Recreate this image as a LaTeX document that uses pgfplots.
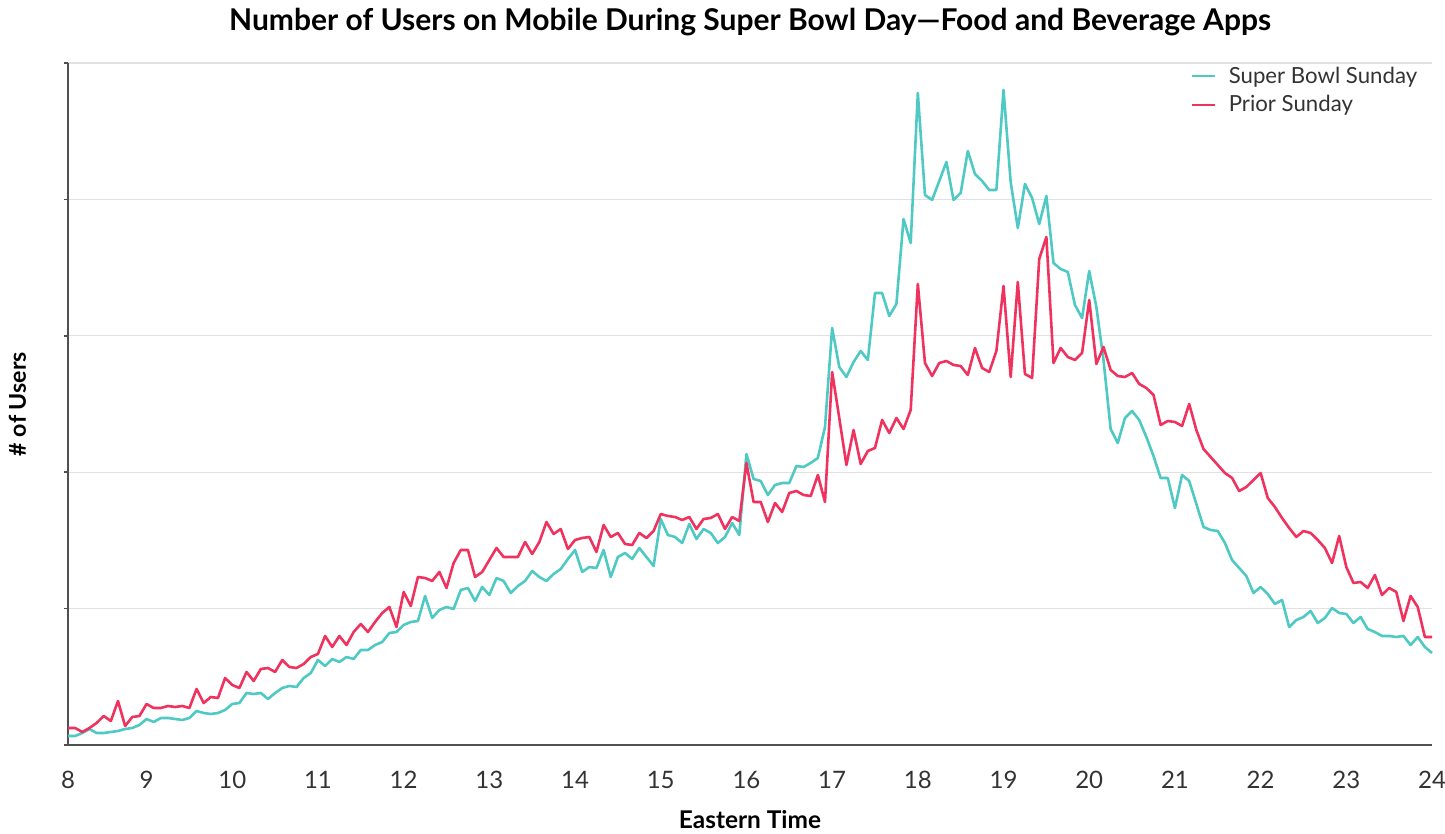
\documentclass[border=0pt]{standalone}
\usepackage{fontspec}
\setmainfont{Lato}
\usepackage{pgfplots}
\pgfplotsset{compat=1.18}
\usepackage{pgfplotstable}
\definecolor{sbteal}{RGB}{78,201,196}
\definecolor{prred}{RGB}{240,50,94}
\definecolor{txtgray}{RGB}{51,51,51}
\definecolor{axgray}{RGB}{80,80,80}
\definecolor{gridgray}{RGB}{225,225,225}

\pgfplotstableread{
h m sb pr
8 5 9 17
8 10 9 17
8 15 12 13
8 20 16 17
8 25 12 22
8 30 12 29
8 35 13 24
8 40 14 44
8 45 16 19
8 50 17 28
8 55 20 29
9 0 26 41
9 5 23 37
9 10 27 37
9 15 27 39
9 20 26 38
9 25 25 39
9 30 27 37
9 35 34 56
9 40 32 42
9 45 31 48
9 50 32 47
9 55 35 67
10 0 41 60
10 5 42 57
10 10 52 73
10 15 51 64
10 20 52 76
10 25 46 77
10 30 52 73
10 35 57 85
10 40 59 78
10 45 58 77
10 50 67 81
10 55 72 88
11 0 85 91
11 5 79 109
11 10 86 98
11 15 83 109
11 20 88 100
11 25 86 113
11 30 95 121
11 35 95 113
11 40 100 123
11 45 103 132
11 50 112 138
11 55 113 118
12 0 120 153
12 5 123 139
12 10 124 168
12 15 149 167
12 20 127 164
12 25 135 173
12 30 138 157
12 35 136 182
12 40 155 195
12 45 157 195
12 50 144 168
12 55 158 173
13 0 150 185
13 5 167 197
13 10 164 188
13 15 152 188
13 20 159 188
13 25 164 203
13 30 174 191
13 35 168 203
13 40 164 223
13 45 171 211
13 50 176 216
13 55 186 196
14 0 195 205
14 5 173 207
14 10 178 208
14 15 177 193
14 20 195 220
14 25 168 208
14 30 188 212
14 35 192 201
14 40 186 200
14 45 197 212
14 50 188 207
14 55 179 214
15 0 226 231
15 5 210 229
15 10 208 228
15 15 202 225
15 20 221 228
15 25 206 216
15 30 216 226
15 35 212 227
15 40 202 231
15 45 208 216
15 50 222 228
15 55 210 224
16 0 291 282
16 5 266 243
16 10 264 243
16 15 250 223
16 20 260 242
16 25 262 233
16 30 262 252
16 35 279 254
16 40 278 250
16 45 282 249
16 50 287 270
16 55 318 243
17 0 417 373
17 5 378 327
17 10 368 280
17 15 383 315
17 20 394 281
17 25 385 294
17 30 452 297
17 35 452 325
17 40 429 312
17 45 441 327
17 50 526 316
17 55 502 335
18 0 652 461
18 5 550 382
18 10 545 369
18 15 564 382
18 20 583 384
18 25 545 380
18 30 552 379
18 35 594 370
18 40 571 397
18 45 564 377
18 50 555 373
18 55 555 394
19 0 655 459
19 5 563 368
19 10 517 463
19 15 561 371
19 20 547 367
19 25 521 486
19 30 549 508
19 35 482 382
19 40 476 397
19 45 473 388
19 50 440 385
19 55 427 392
20 0 474 445
20 5 438 381
20 10 385 398
20 15 316 375
20 20 302 369
20 25 327 368
20 30 334 372
20 35 325 361
20 40 308 357
20 45 289 350
20 50 267 320
20 55 267 324
21 0 237 323
21 5 270 319
21 10 264 341
21 15 241 315
21 20 218 296
21 25 215 288
21 30 214 280
21 35 202 272
21 40 185 267
21 45 177 254
21 50 169 258
21 55 152 265
22 0 158 272
22 5 151 247
22 10 141 238
22 15 145 227
22 20 118 217
22 25 125 208
22 30 128 214
22 35 134 212
22 40 122 205
22 45 127 197
22 50 137 182
22 55 132 209
23 0 131 178
23 5 122 162
23 10 128 163
23 15 116 157
23 20 113 170
23 25 109 150
23 30 109 157
23 35 108 153
23 40 109 124
23 45 100 149
23 50 108 138
23 55 98 108
24 0 92 108
}\datatable

\begin{document}
\begin{tikzpicture}
\path[use as bounding box] (-34pt,-44.5pt) rectangle (688.5pt,372.5pt);
\begin{axis}[
  at={(0pt,0pt)}, anchor=south west,
  scale only axis, width=682pt, height=341pt,
  xmin=8.0833, xmax=24, ymin=0, ymax=682,
  axis x line*=bottom, axis y line*=left,
  axis line style={draw=axgray, line width=0.8pt},
  xtick={8.0833,9,10,11,12,13,14,15,16,17,18,19,20,21,22,23,24},
  xticklabels={8,9,10,11,12,13,14,15,16,17,18,19,20,21,22,23,24},
  xtick style={draw=none},
  xticklabel style={anchor=base, yshift=-20pt, font=\fontsize{12}{14}\selectfont, text=txtgray},
  ytick={0,136.4,272.8,409.2,545.6,682},
  yticklabels={},
  ytick style={draw=axgray, line width=0.8pt},
  tick align=outside, major tick length=2pt,
  ymajorgrids, grid style={draw=gridgray, line width=0.6pt},
  legend style={at={(rel axis cs:0.8217,1.004)}, anchor=north west, draw=none, fill=none,
    font=\fontsize{11.1}{13}\selectfont, text=txtgray, row sep=0.5pt, inner sep=1pt},
  legend cell align=left,
  legend image code/.code={\draw[#1, line width=1pt] (0cm,0cm) -- (0.4cm,0cm); \path (0.55cm,0cm);},
  clip=false,
]
\addplot[sbteal, line width=1.3pt, line join=round, no markers] table[x expr=\thisrow{h}+\thisrow{m}/60, y=sb] {\datatable};
\addlegendentry{Super Bowl Sunday}
\addplot[prred, line width=1.3pt, line join=round, no markers] table[x expr=\thisrow{h}+\thisrow{m}/60, y=pr] {\datatable};
\addlegendentry{Prior Sunday}
\end{axis}
\node[anchor=base, font=\bfseries\fontsize{15}{17}\selectfont, text=black] at (341pt,357pt) {Number of Users on Mobile During Super Bowl Day—Food and Beverage Apps};
\node[anchor=base, font=\bfseries\fontsize{12.2}{14}\selectfont, text=black] at (341pt,-42pt) {Eastern Time};
\node[rotate=90, anchor=base, font=\bfseries\fontsize{11.6}{13}\selectfont, text=black] at (-21pt,170.5pt) {\# of Users};
\end{tikzpicture}
\end{document}
